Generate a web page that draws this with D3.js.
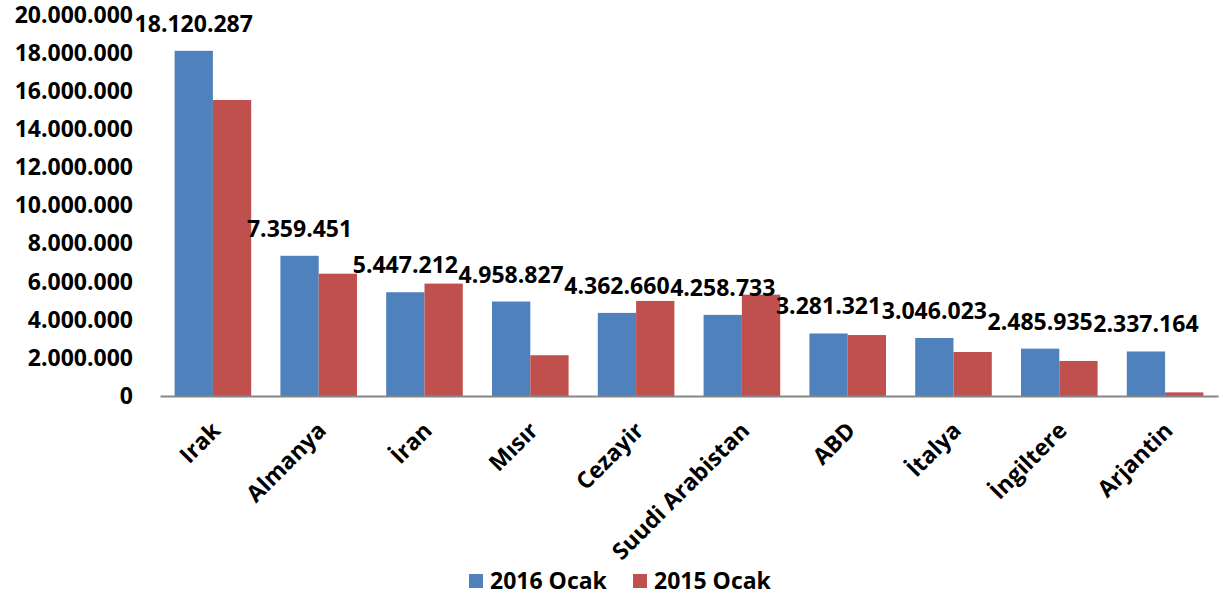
<!DOCTYPE html>
<html><head><meta charset="utf-8">
<script src="https://cdn.jsdelivr.net/npm/d3@7"></script>
<style>
body{margin:0;background:#fff;}
text{font-family:"Open Sans",sans-serif;font-weight:700;fill:#000;}
</style></head>
<body><svg id="c" width="1223" height="595"></svg>
<script>
const categories = ["Irak","Almanya","İran","Mısır","Cezayir","Suudi Arabistan","ABD","İtalya","İngiltere","Arjantin"];
const series2016 = [18120287,7359451,5447212,4958827,4362660,4258733,3281321,3046023,2485935,2337164];
const series2015 = [15540000,6420000,5900000,2140000,4990000,5320000,3200000,2310000,1840000,190000];
const seriesNames = ["2016 Ocak","2015 Ocak"];
const colors = ["#4F81BD","#C0504D"];
const yTicks = [0,2000000,4000000,6000000,8000000,10000000,12000000,14000000,16000000,18000000,20000000];

(function(){
const svg = d3.select("#c");
const pLeft=160, pRight=1218, pTop=15, pBottom=396;
const fs = "23px";
const fmt = v => d3.format(",")(v).replace(/,/g,".");

const x = d3.scaleBand().domain(categories).range([pLeft,pRight]).paddingInner(0.276).paddingOuter(0.138);
const xs = d3.scaleBand().domain([0,1]).range([0,x.bandwidth()]);
const y = d3.scaleLinear().domain([0,20000000]).range([pBottom,pTop]);

const data = categories.map((c,i)=>({c, v:[series2016[i],series2015[i]]}));

const g = svg.append("g");
const groups = g.selectAll("g.grp").data(data).join("g").attr("transform",d=>`translate(${x(d.c)},0)`);
groups.selectAll("rect").data(d=>d.v.map((v,k)=>({v,k}))).join("rect")
  .attr("x",d=>xs(d.k)).attr("width",xs.bandwidth())
  .attr("y",d=>y(d.v)).attr("height",d=>pBottom-y(d.v))
  .attr("fill",d=>colors[d.k]);

// data labels
groups.append("text").attr("x",xs(0)+xs.bandwidth()/2).attr("y",d=>y(d.v[0])-19)
  .attr("text-anchor","middle").style("font-size",fs).text(d=>fmt(d.v[0]));

// y axis
const yAxis = d3.axisLeft(y).tickValues(yTicks).tickFormat(fmt).tickSize(0).tickPadding(0);
const ya = svg.append("g").attr("transform",`translate(133,0)`).call(yAxis);
ya.select(".domain").remove();
ya.selectAll("text").style("font-size",fs).style("font-family","'Open Sans',sans-serif").style("font-weight","700").attr("fill","#000");

// x axis
const xAxis = d3.axisBottom(x).tickSize(0).tickPadding(0);
const xa = svg.append("g").attr("transform",`translate(0,${pBottom})`).call(xAxis);
xa.select(".domain").attr("stroke","#868686").attr("stroke-width",2);
xa.selectAll("text").style("font-size",fs).style("font-family","'Open Sans',sans-serif").style("font-weight","700").attr("fill","#000")
  .attr("text-anchor","end").attr("dy","0").attr("y",0)
  .attr("transform","translate(9,36) rotate(-45)");

// legend
const leg = svg.append("g");
const lx = [469,633];
seriesNames.forEach((n,i)=>{
  leg.append("rect").attr("x",lx[i]).attr("y",574).attr("width",14).attr("height",14).attr("fill",colors[i]);
  leg.append("text").attr("x",lx[i]+21).attr("y",589).style("font-size",fs).text(n);
});
})();
</script></body></html>
